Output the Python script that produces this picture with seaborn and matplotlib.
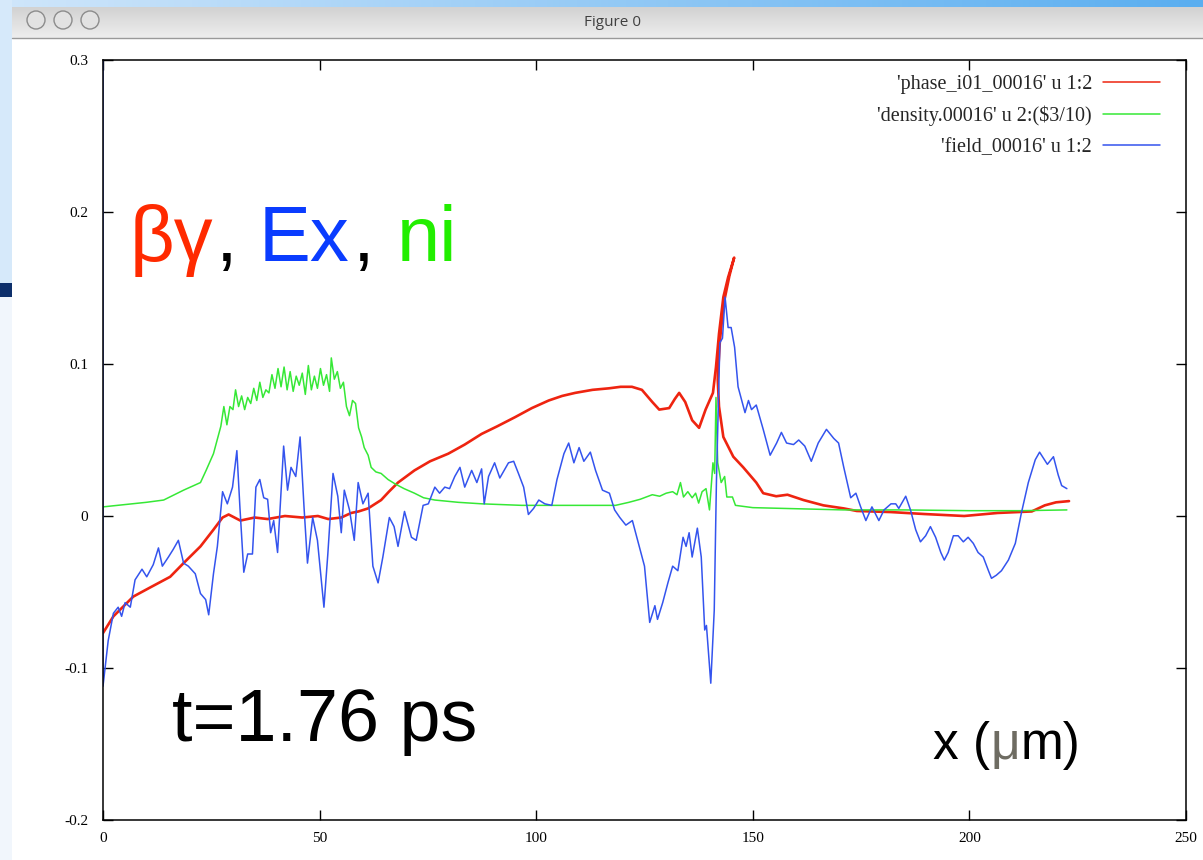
import numpy as np
import pandas as pd
import matplotlib
matplotlib.use("Agg")
import matplotlib.pyplot as plt
from matplotlib.patches import Rectangle, Circle
import seaborn as sns

# phase_i01_00016 (red), x in um vs beta*gamma
phase_x = [0, 2.4, 7, 10.9, 15.5, 18.6, 22.5, 25.5, 27.6, 29,
           31.7, 35, 38, 42, 46, 49.6, 52, 55, 57.3, 59,
           61.2, 64.2, 66, 68.1, 71.9, 75.5, 79.7, 83.5, 87.4, 91,
           95.1, 99, 102.9, 106, 109, 113, 116.8, 119.5, 122.1, 124.4,
           126.8, 128.4, 130.7, 132, 133, 134.4, 136, 137.6, 139.1, 140.8,
           141.5, 142.2, 143.2, 144.3, 145.7, 144.6, 143.3, 142.4, 141.9, 142.2,
           143.2, 145.5, 147.8, 150.8, 152.4, 155.4, 158, 161.7, 166.3, 171,
           174, 181.8, 189.6, 198.8, 206.5, 214.4, 217.4, 220, 223]
phase_y = [-0.077, -0.066, -0.053, -0.047, -0.040, -0.031, -0.020, -0.009, -0.001, 0.001,
           -0.003, -0.001, -0.002, 0.0, -0.001, 0.0, -0.002, -0.001, 0.002, 0.003,
           0.005, 0.0105, 0.016, 0.022, 0.030, 0.036, 0.041, 0.047, 0.054, 0.059,
           0.065, 0.071, 0.076, 0.079, 0.081, 0.083, 0.084, 0.085, 0.085, 0.083,
           0.075, 0.070, 0.071, 0.077, 0.081, 0.075, 0.063, 0.058, 0.070, 0.081,
           0.098, 0.120, 0.144, 0.157, 0.170, 0.158, 0.140, 0.115, 0.090, 0.072,
           0.052, 0.039, 0.032, 0.022, 0.015, 0.013, 0.014, 0.0105, 0.007, 0.005,
           0.0033, 0.0026, 0.0013, 0.0, 0.002, 0.003, 0.007, 0.009, 0.0098]

# density.00016 /10 (green)
dens_x = [0, 5, 10, 14, 18.6, 22.5, 23.8, 25.5, 27.2, 27.9,
          28.6, 29.3, 30.0, 30.6, 31.3, 32.0, 32.7, 33.4, 34.1, 34.8,
          35.5, 36.2, 36.9, 37.6, 38.3, 39.0, 39.7, 40.4, 41.1, 41.8,
          42.5, 43.2, 43.9, 44.6, 45.3, 46.0, 46.7, 47.4, 48.1, 48.8,
          49.5, 50.2, 50.9, 51.6, 52.3, 52.7, 53.4, 54.1, 54.8, 55.5,
          56.2, 56.9, 57.6, 58.3, 59.0, 59.7, 60.3, 61.2, 61.9, 63.0,
          64.2, 65.8, 67.5, 69.5, 71.9, 74, 76.6, 82, 87.5, 96.7,
          105, 110.7, 118.3, 121.4, 124, 126.8, 128.5, 130, 131.5, 132.5,
          133.3, 134, 135, 136, 136.8, 137.5, 138.3, 139.2, 140, 140.8,
          141.2, 141.5, 141.9, 142.7, 143.5, 144, 145.3, 146, 150, 157,
          171, 185, 200, 212, 222.5]
dens_y = [0.006, 0.0075, 0.009, 0.0105, 0.017, 0.022, 0.030, 0.041, 0.059, 0.072,
          0.060, 0.072, 0.070, 0.083, 0.072, 0.079, 0.070, 0.078, 0.074, 0.084,
          0.076, 0.088, 0.078, 0.083, 0.081, 0.093, 0.084, 0.097, 0.085, 0.098,
          0.083, 0.095, 0.082, 0.092, 0.086, 0.094, 0.080, 0.099, 0.083, 0.092,
          0.084, 0.097, 0.086, 0.093, 0.082, 0.104, 0.090, 0.095, 0.084, 0.088,
          0.072, 0.066, 0.076, 0.074, 0.058, 0.052, 0.045, 0.040, 0.032, 0.029,
          0.028, 0.024, 0.021, 0.018, 0.015, 0.012, 0.0105, 0.009, 0.008, 0.007,
          0.007, 0.007, 0.007, 0.009, 0.011, 0.014, 0.013, 0.015, 0.016, 0.014,
          0.022, 0.0125, 0.016, 0.012, 0.015, 0.0085, 0.016, 0.018, 0.004, 0.035,
          0.028, 0.078, 0.035, 0.022, 0.026, 0.0125, 0.0125, 0.007, 0.0055, 0.005,
          0.004, 0.004, 0.0035, 0.0035, 0.004]

# field_00016 (blue)
field_x = [0, 0, 1.2, 2.4, 3.5, 4.3, 5.1, 6.3, 7.4, 9,
           10.1, 11.6, 12.8, 13.7, 15.1, 16.2, 17.4, 18.6, 19.7, 21.3,
           22.5, 23.7, 24.4, 25.5, 26.4, 27.6, 28.7, 29.9, 30.9, 31.6,
           32.5, 33.4, 34.5, 35.3, 36.2, 37.1, 38, 38.7, 39.4, 40.3,
           41.7, 42.6, 43.4, 44.5, 45.5, 46.4, 47.2, 48.4, 49.5, 51,
           51.9, 53.1, 54.2, 55, 55.7, 56.9, 58, 58.9, 60, 61.2,
           62.3, 63.5, 64.6, 66.1, 67.2, 68.1, 69.6, 71.2, 72.3, 73.9,
           75.1, 76.6, 77.7, 78.9, 80, 81.2, 82.4, 83.5, 85.1, 86.3,
           87.4, 88, 89, 90.4, 91.6, 93.6, 94.8, 95.9, 97.1, 98.2,
           99.4, 100.6, 102, 103.6, 104.8, 106.4, 107.5, 108.7, 109.9, 111,
           112.5, 113.7, 115.3, 116.9, 118.1, 119.3, 120.7, 122.2, 123.8, 125,
           126.2, 127.4, 128, 129.2, 130.4, 131.5, 132.7, 133.9, 134.6, 135.3,
           136, 137.2, 138.1, 138.9, 139.3, 140.3, 141.1, 141.6, 142.4, 143,
           143.6, 144.3, 145, 145.8, 146.6, 148.2, 149, 149.7, 150.8, 152.4,
           154, 155.5, 156.6, 157.8, 159.4, 160.6, 162, 163.5, 165.1, 167,
           168.7, 169.8, 171, 172.6, 173.8, 174.9, 176.1, 177.5, 179.1, 180.3,
           181.9, 183, 183.7, 185.3, 186.4, 187.6, 188.7, 189.9, 191, 192.2,
           193.4, 194.2, 195.1, 196.3, 197.4, 198.6, 199.7, 200.9, 202, 203.2,
           204.4, 205.1, 206.2, 207.4, 209, 210.6, 212, 213.6, 215.2, 216.2,
           217.1, 218, 219.4, 220.5, 221.3, 222.5]
field_y = [0.30, -0.112, -0.082, -0.064, -0.060, -0.066, -0.057, -0.060, -0.042, -0.035,
           -0.040, -0.032, -0.021, -0.033, -0.027, -0.022, -0.016, -0.031, -0.033, -0.038,
           -0.051, -0.055, -0.065, -0.038, -0.020, 0.016, 0.008, 0.019, 0.043, 0.006,
           -0.037, -0.025, -0.025, 0.019, 0.024, 0.012, 0.011, -0.011, -0.003, -0.024,
           0.046, 0.017, 0.032, 0.026, 0.052, 0.006, -0.031, -0.001, -0.016, -0.060,
           -0.025, 0.028, 0.013, -0.011, 0.017, 0.004, -0.016, 0.022, 0.008, 0.015,
           -0.033, -0.044, -0.027, -0.001, -0.007, -0.020, 0.003, -0.014, -0.016, 0.007,
           0.008, 0.019, 0.015, 0.019, 0.018, 0.026, 0.032, 0.019, 0.030, 0.022,
           0.031, 0.008, 0.026, 0.035, 0.025, 0.035, 0.036, 0.028, 0.019, 0.001,
           0.005, 0.0105, 0.008, 0.007, 0.024, 0.041, 0.048, 0.035, 0.045, 0.036,
           0.042, 0.030, 0.017, 0.015, 0.004, -0.001, -0.006, -0.003, -0.020, -0.033,
           -0.070, -0.059, -0.068, -0.057, -0.044, -0.033, -0.036, -0.014, -0.020, -0.011,
           -0.027, -0.008, -0.027, -0.075, -0.072, -0.110, -0.062, 0.022, 0.114, 0.117,
           0.144, 0.124, 0.124, 0.111, 0.085, 0.068, 0.076, 0.070, 0.073, 0.057,
           0.040, 0.048, 0.055, 0.048, 0.047, 0.050, 0.046, 0.036, 0.048, 0.057,
           0.051, 0.048, 0.032, 0.012, 0.015, 0.006, -0.003, 0.006, -0.003, 0.004,
           0.008, 0.008, 0.005, 0.013, 0.004, -0.009, -0.017, -0.013, -0.007, -0.014,
           -0.024, -0.029, -0.024, -0.013, -0.013, -0.017, -0.014, -0.018, -0.024, -0.027,
           -0.036, -0.041, -0.039, -0.036, -0.029, -0.018, 0.002, 0.022, 0.037, 0.042,
           0.038, 0.034, 0.039, 0.027, 0.020, 0.018]

labels = ["'phase_i01_00016' u 1:2", "'density.00016' u 2:($3/10)", "'field_00016' u 1:2"]
colors = ["#ee2410", "#36e836", "#3454ee"]
xticks = [0, 50, 100, 150, 200, 250]
yticks = [-0.2, -0.1, 0, 0.1, 0.2, 0.3]
ytick_labels = ["-0.2", "-0.1", "0", "0.1", "0.2", "0.3"]

sns.set_style("ticks")
plt.rcParams["font.family"] = ["Liberation Serif", "DejaVu Serif"]

W, H = 1203, 860
fig = plt.figure(figsize=(W / 100, H / 100), dpi=100)
fig.patch.set_facecolor("white")


def fx(x):
    return x / W


def fy(y):
    return 1 - y / H


# window chrome (mac title bar etc.)
bg = fig.add_axes([0, 0, 1, 1])
bg.set_zorder(0)
grad = np.linspace(0, 1, 200).reshape(1, -1)
bg.imshow(grad, extent=(0, W, 7, 0), aspect="auto",
          cmap=matplotlib.colors.LinearSegmentedColormap.from_list("t", ["#cfe6fb", "#5aaef0"]))
vgrad = np.linspace(0, 1, 50).reshape(-1, 1)
bg.imshow(vgrad, extent=(12, W, 38, 7), aspect="auto",
          cmap=matplotlib.colors.LinearSegmentedColormap.from_list("g", ["#d2d2d2", "#eeeeee"]))
bg.add_patch(Rectangle((0, 0), 12, 283, color="#d6e9fa", lw=0))
bg.add_patch(Rectangle((0, 283), 12, 14, color="#0d2f6b", lw=0))
bg.add_patch(Rectangle((0, 297), 12, H - 297, color="#f1f6fc", lw=0))
bg.plot([12, W], [38, 38], color="#9a9a9a", lw=1)
for cx in [36, 63, 90]:
    bg.add_patch(Circle((cx, 20), 9, fc="#e2e2e2", ec="#8c8c8c", lw=1))
bg.text(612, 22, "Figure 0", ha="center", va="center", fontsize=11,
        color="#404040", family=["Open Sans", "DejaVu Sans"])
bg.set_xlim(0, W)
bg.set_ylim(H, 0)
bg.axis("off")

# main plot
ax = fig.add_axes([fx(103), fy(820), (1186 - 103) / W, (820 - 60) / H])
ax.set_zorder(1)
ax.set_facecolor("white")

phase = pd.DataFrame({"x": phase_x, "y": phase_y})
dens = pd.DataFrame({"x": dens_x, "y": dens_y})
field = pd.DataFrame({"x": field_x, "y": field_y})

sns.lineplot(data=phase, x="x", y="y", sort=False, estimator=None,
             color=colors[0], lw=1.9, label=labels[0], ax=ax)
sns.lineplot(data=dens, x="x", y="y", sort=False, estimator=None,
             color=colors[1], lw=1.1, label=labels[1], ax=ax)
sns.lineplot(data=field, x="x", y="y", sort=False, estimator=None,
             color=colors[2], lw=1.1, label=labels[2], ax=ax)

ax.set_xlim(0, 250)
ax.set_ylim(-0.2, 0.3)
ax.set_xticks(xticks)
ax.set_xticklabels([str(t) for t in xticks])
ax.set_yticks(yticks)
ax.set_yticklabels(ytick_labels)
ax.set_xlabel("")
ax.set_ylabel("")
ax.tick_params(direction="in", length=7, width=1, top=True, right=True,
               labelsize=11, colors="black")
ax.tick_params(axis="x", pad=8.5)
ax.tick_params(axis="y", pad=10.5)
for s in ax.spines.values():
    s.set_linewidth(1.1)
    s.set_color("black")

handles, _ = ax.get_legend_handles_labels()
leg = ax.legend(handles=handles, labels=labels, loc="upper right",
                bbox_to_anchor=(fx(1160), fy(75)), bbox_transform=fig.transFigure,
                frameon=False, markerfirst=False, borderpad=0, borderaxespad=0,
                fontsize=14.5, handlelength=2.83, handletextpad=0.55, labelspacing=0.59)
for line in leg.get_lines():
    line.set_linewidth(1.1)

# annotations drawn on the slide
sans = ["Liberation Sans", "DejaVu Sans"]
fig.text(fx(130), fy(261), "\u03b2\u03b3", color="#ff2a00", fontsize=56, family=sans, va="baseline")
fig.text(fx(216), fy(261), ",", color="black", fontsize=56, family=sans, va="baseline")
fig.text(fx(259), fy(261), "Ex", color="#0a3cff", fontsize=56, family=sans, va="baseline")
fig.text(fx(353), fy(261), ",", color="black", fontsize=56, family=sans, va="baseline")
fig.text(fx(397), fy(261), "ni", color="#22ee00", fontsize=56, family=sans, va="baseline")

fig.text(fx(172), fy(741), "t=1.76 ps", color="black", fontsize=53, family=sans, va="baseline")

fig.text(fx(933), fy(759), "x (", color="black", fontsize=37, family=sans, va="baseline")
fig.text(fx(991), fy(759), "\u03bc", color="#6e6c62", fontsize=37, family=sans, va="baseline")
fig.text(fx(1021), fy(759), "m)", color="black", fontsize=37, family=sans, va="baseline")

fig.savefig("out.png", dpi=100)
